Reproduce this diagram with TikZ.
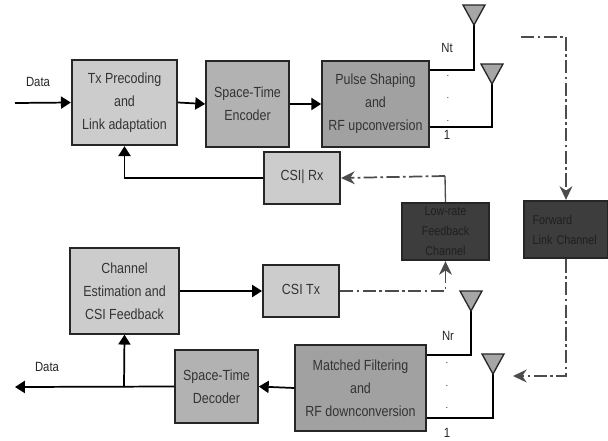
\documentclass[tikz,border=0pt]{standalone}
\usepackage{fontspec}
\setmainfont[FakeStretch=0.85]{Liberation Sans}
\usetikzlibrary{arrows.meta,calc}
\definecolor{lightblock}{gray}{0.80}
\definecolor{midblock}{gray}{0.70}
\definecolor{darkblock}{gray}{0.63}
\definecolor{channelblock}{gray}{0.24}
\definecolor{channeltext}{gray}{0.12}
\definecolor{linkline}{gray}{0.30}
\tikzset{block/.style={draw=black!85,line width=1.5pt,align=center,inner sep=0pt,
           text=black!80,font=\fontsize{11}{17.2}\selectfont},
         lightbox/.style={block,fill=lightblock},
         midbox/.style={block,fill=midblock},
         darkbox/.style={block,fill=darkblock},
         channelbox/.style={block,fill=channelblock,text=channeltext,
           font=\fontsize{9.5}{15}\selectfont},
         wire/.style={draw=black,line width=1.3pt},
         wirearrow/.style={wire,-{Triangle[length=2.6mm,width=3.2mm]}},
         linkarrow/.style={draw=linkline,line width=1.3pt,dash pattern=on 10pt off 2.5pt on 2pt off 2.5pt,
           -{Stealth[length=3.6mm,width=3.4mm]}},
         linkline/.style={draw=linkline,line width=1pt},
         antenna/.style={draw=black!85,fill=gray!70,line width=1pt},
         tag/.style={text=black!85,font=\fontsize{10}{12}\selectfont,inner sep=0pt},
         dotmark/.style={font=\fontsize{7}{8}\selectfont,inner sep=0pt}}

\begin{document}
\begin{tikzpicture}[x=0.75pt,y=-0.75pt]
  \useasboundingbox (0,0) rectangle (608,440);
  % transmit chain
  \node[lightbox,minimum width=79pt,minimum height=64pt] (precoding) at (124.5,102.5)
    {Tx Precoding\\and\\Link adaptation};
  \node[midbox,minimum width=62pt,minimum height=64pt] (encoder) at (247.5,104)
    {Space-Time\\Encoder};
  \node[darkbox,minimum width=80pt,minimum height=64pt] (pulse) at (375.5,104)
    {Pulse Shaping\\and\\RF upconversion};
  \node[lightbox,minimum width=57pt,minimum height=39pt] (csirx) at (302,178)
    {\raisebox{4pt}{CSI| Rx}};
  % channels
  \node[channelbox,minimum width=65pt,minimum height=43pt] (lowrate) at (445.5,231.5)
    {Low-rate\\Feedback\\Channel};
  \node[channelbox,align=left,text width=50pt,inner xsep=6.5pt,minimum height=43pt] (forward) at (566,229.5)
    {Forward\\Link Channel};
  % receive chain
  \node[lightbox,minimum width=82pt,minimum height=64pt] (estimation) at (124.5,291)
    {Channel\\Estimation and\\CSI Feedback};
  \node[lightbox,minimum width=57pt,minimum height=39pt] (csitx) at (301,291)
    {\raisebox{3pt}{CSI Tx}};
  \node[midbox,minimum width=62pt,minimum height=55pt] (decoder) at (216.5,386.5)
    {Space-Time\\Decoder};
  \node[darkbox,minimum width=98pt,minimum height=64pt] (matched) at (360.5,388)
    {Matched Filtering\\and\\RF downconversion};
  % free ends
  \coordinate (datain) at (15,103);
  \coordinate (dataout) at (15,387);
  \coordinate (branch) at (124,387);
  \coordinate (txtipa) at (474,25);
  \coordinate (txtipb) at (492,84);
  \coordinate (rxtipa) at (471,311);
  \coordinate (rxtipb) at (493,374);
  \coordinate (forwardstart) at (521,37);
  \coordinate (forwardend) at (513,376);
  \coordinate (lowrateturn) at (445,176);
  % solid connectors
  \draw[wirearrow] (datain) -- (precoding.west);
  \draw[wirearrow] (precoding.east) -- (encoder.west);
  \draw[wirearrow] (encoder.east) -- (pulse.west);
  \draw[wirearrow] (csirx.west) -| (precoding.south);
  \draw[wirearrow] (estimation.east) -- (csitx.west);
  \draw[wirearrow] (matched.west) -- (decoder.east);
  \draw[wirearrow] (decoder.west) -- (dataout);
  \draw[wirearrow] (branch) -- (estimation.south);
  % antennas
  \draw[wire] (pulse.east |- 0,70) -| (txtipa);
  \draw[wire] (pulse.east |- 0,127) -| (txtipb);
  \draw[wire] (matched.east |- 0,355) -| (rxtipa);
  \draw[wire] (matched.east |- 0,418) -| (rxtipb);
  \draw[antenna] (txtipa) -- ++(-11,-20) -- ++(22,0) -- cycle;
  \draw[antenna] (txtipb) -- ++(-11,-20) -- ++(22,0) -- cycle;
  \draw[antenna] (rxtipa) -- ++(-11,-20) -- ++(22,0) -- cycle;
  \draw[antenna] (rxtipb) -- ++(-11,-20) -- ++(22,0) -- cycle;
  % feedback and forward links
  \draw[linkarrow] (forwardstart) -| (forward.north);
  \draw[linkarrow] (forward.south) |- (forwardend);
  \draw[linkline] (lowrate.north) -- (lowrateturn);
  \draw[linkarrow] (lowrateturn) -- (csirx.east);
  \draw[linkarrow] (csitx.east) -| (lowrate.south);
  % labels
  \node[tag] (datainlabel) at (38,82) {Data};
  \node[tag] (dataoutlabel) at (47,367) {Data};
  \node[tag] (ntlabel) at (447,48) {Nt};
  \node[tag] (txonelabel) at (447,135) {1};
  \node[tag] (nrlabel) at (448,336) {Nr};
  \node[tag] (rxonelabel) at (447,433) {1};
  \foreach \y in {76,98,121} \node[dotmark] at (448,\y) {.};
  \foreach \y in {363,386,408} \node[dotmark] at (447,\y) {.};
\end{tikzpicture}
\end{document}
